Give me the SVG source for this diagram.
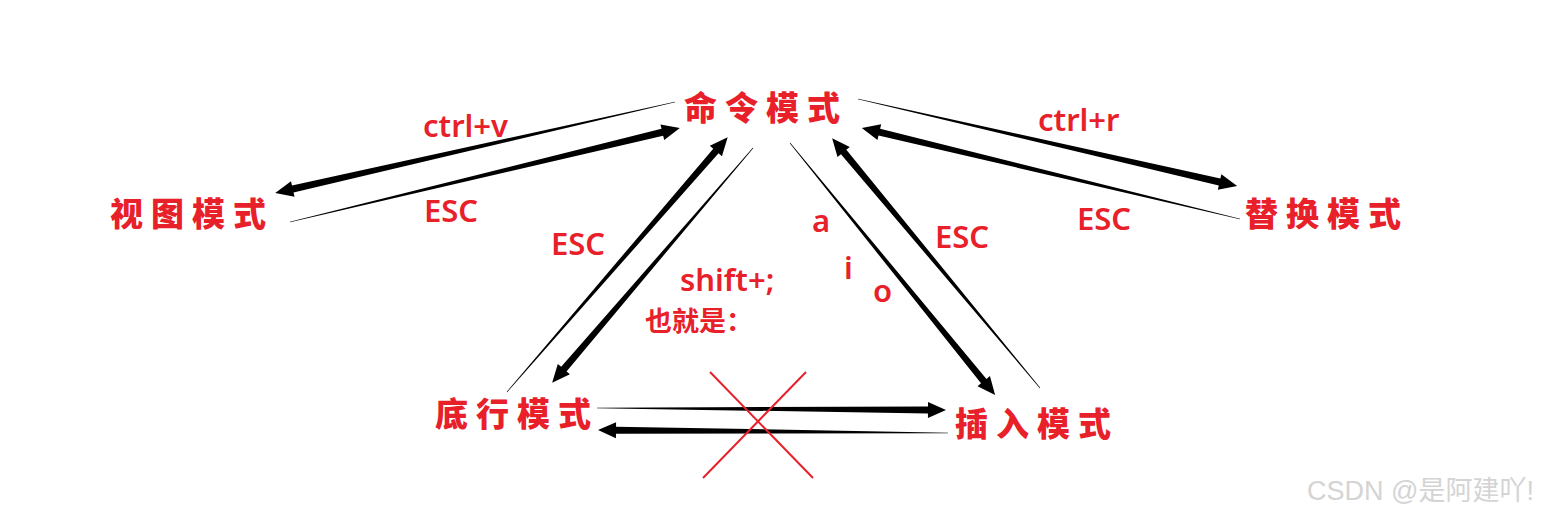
<svg xmlns="http://www.w3.org/2000/svg" width="1548" height="518" viewBox="0 0 1548 518">
<style>
.node{font-family:"Noto Sans CJK SC","Noto Sans",sans-serif;font-weight:900;font-size:33px;fill:#e8202a;letter-spacing:8px}
.lbl{font-family:"Noto Sans","Noto Sans CJK SC",sans-serif;font-weight:600;font-size:31px;fill:#e8202a}
.cjk{font-family:"Noto Sans CJK SC","Noto Sans",sans-serif;font-weight:700;font-size:27px;fill:#e8202a}
.arr{fill:#000}
.wm{font-family:"Liberation Sans","Noto Sans CJK SC",sans-serif;font-size:27px;fill:#d4d4d4}
</style>
<rect width="1548" height="518" fill="#fff"/>
<g id="connectors">
<polygon class="arr" transform="translate(675,102) rotate(167.18)" points="0,-0.3 392,-3.5 392,-8 410,0 392,8 392,3.5 0,0.3"/>
<polygon class="arr" transform="translate(290,222) rotate(-13.55)" points="0,-0.3 383,-3.5 383,-8 401,0 383,8 383,3.5 0,0.3"/>
<polygon class="arr" transform="translate(858,99) rotate(12.93)" points="0,-0.3 371,-3.5 371,-8 389,0 371,8 371,3.5 0,0.3"/>
<polygon class="arr" transform="translate(1240,219) rotate(-166.46)" points="0,-0.3 371,-3.5 371,-8 389,0 371,8 371,3.5 0,0.3"/>
<polygon class="arr" transform="translate(507,392) rotate(-49.09)" points="0,-0.3 319,-3.5 319,-8 337,0 319,8 319,3.5 0,0.3"/>
<polygon class="arr" transform="translate(753,148) rotate(130.54)" points="0,-0.3 291,-3.5 291,-8 309,0 291,8 291,3.5 0,0.3"/>
<polygon class="arr" transform="translate(790,143) rotate(50.87)" points="0,-0.3 307,-3.5 307,-8 325,0 307,8 307,3.5 0,0.3"/>
<polygon class="arr" transform="translate(1040,388) rotate(-129.76)" points="0,-0.3 307,-3.5 307,-8 325,0 307,8 307,3.5 0,0.3"/>
<polygon class="arr" transform="translate(597,408) rotate(0.33)" points="0,-0.3 331,-3.5 331,-8 349,0 331,8 331,3.5 0,0.3"/>
<polygon class="arr" transform="translate(948,433) rotate(-179.51)" points="0,-0.3 332,-3.5 332,-8 350,0 332,8 332,3.5 0,0.3"/>
<line x1="710" y1="372" x2="813" y2="478" stroke="#e8202a" stroke-width="2"/>
<line x1="806" y1="372" x2="703" y2="478" stroke="#e8202a" stroke-width="2"/>
</g>
<g id="labels">
<text class="lbl" x="423" y="137">ctrl+v</text>
<text class="lbl" x="424" y="222">ESC</text>
<text class="lbl" x="1038" y="131">ctrl+r</text>
<text class="lbl" x="1077" y="230">ESC</text>
<text class="lbl" x="551" y="255">ESC</text>
<text class="lbl" x="935" y="248">ESC</text>
<text class="lbl" x="812" y="232">a</text>
<text class="lbl" x="844" y="279">i</text>
<text class="lbl" x="873" y="302">o</text>
<text class="lbl" x="680" y="291">shift+;</text>
<text class="cjk" x="645" y="331">也就是：</text>
</g>
<g id="node-command"><text class="node" x="684" y="120">命令模式</text></g>
<g id="node-visual"><text class="node" x="110" y="226">视图模式</text></g>
<g id="node-replace"><text class="node" x="1245" y="226">替换模式</text></g>
<g id="node-lastline"><text class="node" x="435" y="426">底行模式</text></g>
<g id="node-insert"><text class="node" x="955" y="436">插入模式</text></g>
<text class="wm" x="1307" y="500">CSDN @是阿建吖!</text>
</svg>
